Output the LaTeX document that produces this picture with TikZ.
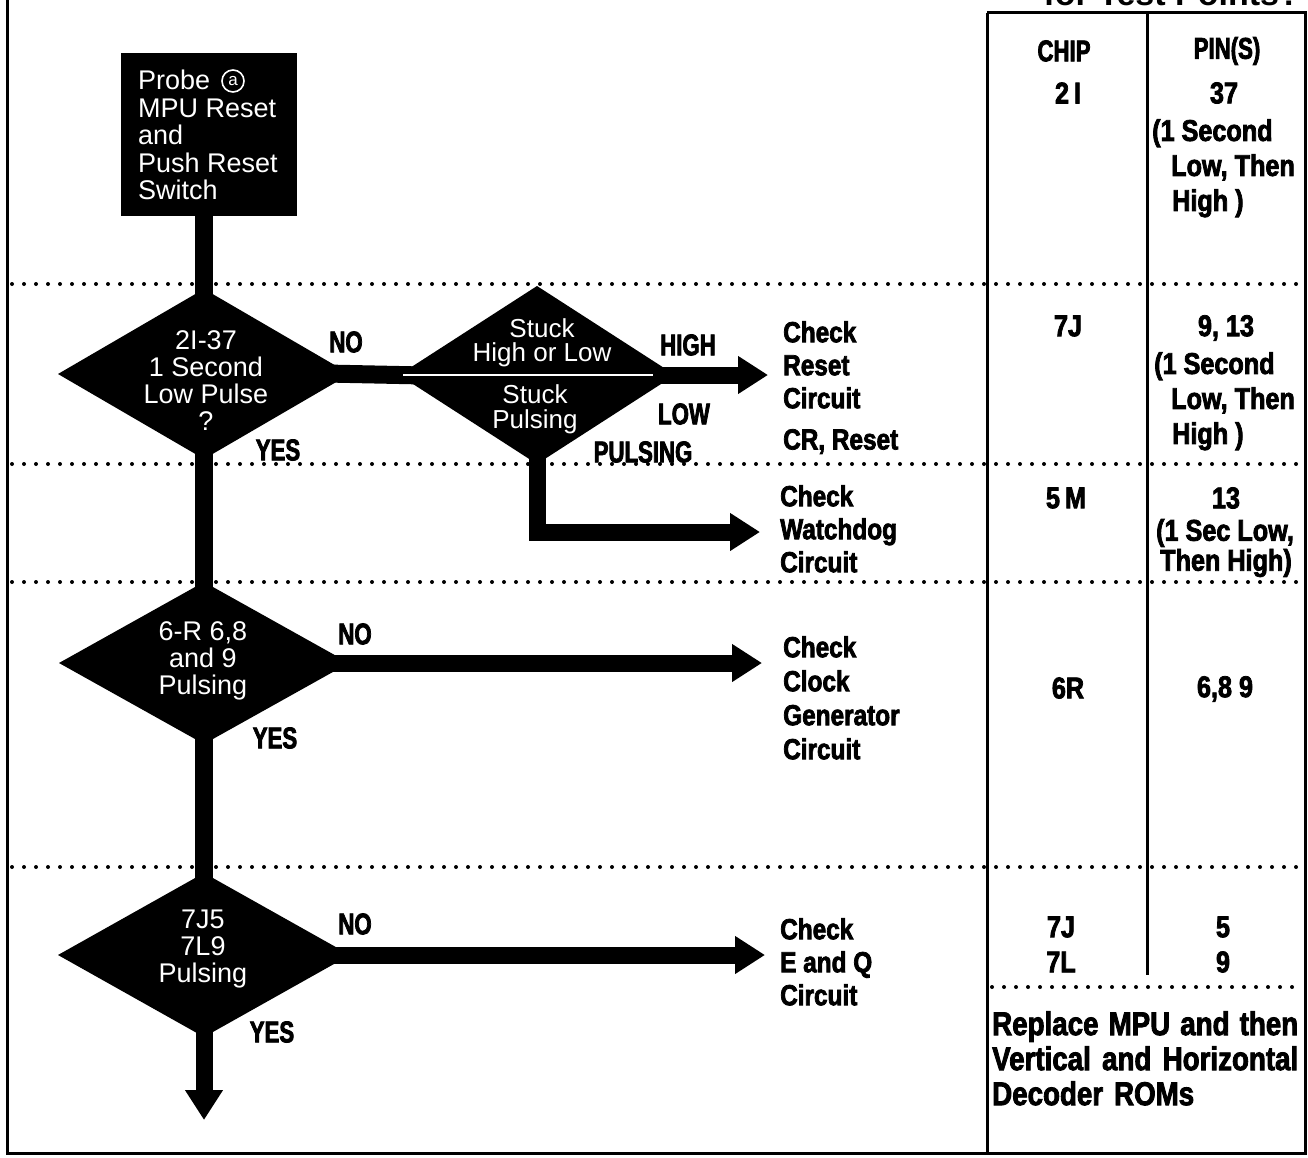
\documentclass[tikz,border=0pt]{standalone}
\usepackage{fontspec}
\setmainfont{Liberation Sans}
\newfontfamily\cond[FakeStretch=0.84,BoldFeatures={FakeBold=2.5}]{Liberation Sans}
\newfontfamily\condx[FakeStretch=0.74,BoldFeatures={FakeBold=2.5}]{Liberation Sans}
\usetikzlibrary{shapes.geometric,arrows.meta}
\begin{document}
\begin{tikzpicture}[x=1pt,y=-1pt,
  dots/.style={line width=4pt, line cap=round, dash pattern=on 0pt off 12pt},
  frame/.style={line width=3pt},
  dia/.style={diamond, fill=black, inner sep=0pt, outer sep=0pt},
  dtext/.style={text=white, font=\fontsize{27}{27}\selectfont, align=center, inner sep=0pt},
  shaft/.style={line width=18pt, shorten <=-16pt, shorten >=-16pt},
  arr/.style={line width=17pt, shorten <=-22pt, -{Triangle[length=30pt 0, width=36pt 0]}},
  lbl/.style={font=\condx\bfseries\fontsize{30}{32}\selectfont, inner sep=0pt},
  res/.style={font=\cond\bfseries\fontsize{29}{33}\selectfont, align=left, anchor=north west, inner sep=0pt},
  tab/.style={font=\cond\bfseries\fontsize{30}{35}\selectfont, inner sep=0pt, align=center},
  tabl/.style={font=\cond\bfseries\fontsize{30}{35}\selectfont, inner sep=0pt, align=left, anchor=north west},
]
\useasboundingbox (0,0) rectangle (1308,1158);

% title (cut off at top, as in the reference)
\node[font=\bfseries\fontsize{34}{34}\selectfont, anchor=base east, inner sep=0pt] (title) at (1300,6) {for Test Points?};

% dotted separators
\foreach \yy in {284,464,582,867} {
  \draw[dots] (12,\yy) -- (1302,\yy);
}
\draw[dots] (992,987) -- (1302,987);

% frame and table lines
\draw[frame] (7,0) -- (7,1153) -- (1305,1153) -- (1305,13) -- (987,13);
\draw[frame] (987,13) -- (987,1153);
\draw[frame] (1147,13) -- (1147,975);

% start box
\node[fill=black, minimum width=176pt, minimum height=163pt, inner sep=0pt, outer sep=0pt, anchor=north west] (start) at (121,53) {};
\node[text=white, anchor=north west, align=left, inner sep=0pt, font=\fontsize{27}{27.5}\selectfont] (starttext) at (138,70)
  {Probe\\MPU Reset\\and\\Push Reset\\Switch};
\node[circle, draw=white, line width=1.6pt, text=white, inner sep=0pt, minimum size=22pt, font=\fontsize{17}{17}\selectfont] (circa) at (233,81) {a};

% diamonds
\node[dia, minimum width=292pt, minimum height=170pt] (d1) at (204,374) {};
\node[dia, minimum width=276pt, minimum height=178pt] (d2) at (537,375) {};
\node[dia, minimum width=290pt, minimum height=162pt] (d3) at (204,663) {};
\node[dia, minimum width=292pt, minimum height=164pt] (d4) at (204,955) {};

% connectors
\draw[shaft] (start.south -| d1.north) -- (d1.north);
\draw[shaft] (d1.south) -- (d3.north);
\draw[shaft] (d3.south) -- (d4.north);
\draw[shaft, shorten <=-22pt, shorten >=-22pt] (d1.east) -- (d2.west);
\draw[white, line width=1.5pt] ([xshift=4pt]d2.west) -- ([xshift=-8pt]d2.east);

\coordinate (t1) at (768,375);
\coordinate (t2) at (760,532);
\coordinate (t3) at (762,663);
\coordinate (t4) at (765,955);
\coordinate (t5) at (204,1120);
\draw[arr] (d2.east) -- (t1);
\draw[arr, shorten <=-16pt] (d2.south) |- (t2);
\draw[arr] (d3.east) -- (t3);
\draw[arr] (d4.east) -- (t4);
\draw[arr, shorten <=-16pt] (d4.south) -- (t5);

% diamond texts
\node[dtext] (d1t) at (206,381) {2I-37\\1 Second\\Low Pulse\\?};
\node[dtext, font=\fontsize{26}{24}\selectfont] (d2a) at (542,343) {Stuck\\High or Low};
\node[dtext, font=\fontsize{26}{25}\selectfont] (d2b) at (535,409) {Stuck\\Pulsing};
\node[dtext] (d3t) at (203,661) {6-R 6,8\\and 9\\Pulsing};
\node[dtext] (d4t) at (203,949) {7J5\\7L9\\Pulsing};

% branch labels
\node[lbl] (no1) at (346,342) {NO};
\node[lbl] (yes1) at (278,450) {YES};
\node[lbl] (high) at (688,345) {HIGH};
\node[lbl] (low) at (684,414) {LOW};
\node[lbl] (puls) at (643,452) {PULSING};
\node[lbl] (no3) at (355,634) {NO};
\node[lbl] (yes3) at (275,738) {YES};
\node[lbl] (no4) at (355,924) {NO};
\node[lbl] (yes4) at (272,1032) {YES};

% result texts
\node[res] (r1) at (783,321) {Check\\Reset\\Circuit};
\node[res] (r1b) at (783,429) {CR, Reset};
\node[res] (r2) at (780,485) {Check\\Watchdog\\Circuit};
\node[res, font=\cond\bfseries\fontsize{29}{34}\selectfont] (r3) at (783,636) {Check\\Clock\\Generator\\Circuit};
\node[res] (r4) at (780,918) {Check\\E and Q\\Circuit};

% table
\node[tab, font=\condx\bfseries\fontsize{30}{35}\selectfont] (chip) at (1064,51) {CHIP};
\node[tab, font=\condx\bfseries\fontsize{30}{35}\selectfont] (pins) at (1227,51) {PIN(S)};
\node[tab] (c1) at (1068,93) {2\,I};
\node[tab] (p1) at (1224,93) {37};
\node[tabl] (p1b) at (1152,119) {(1 Second\\\hspace*{19pt}Low, Then\\\hspace*{20pt}High )};
\node[tab] (c2) at (1068,326) {7J};
\node[tab] (p2) at (1226,328) {9, 13};
\node[tabl] (p2b) at (1154,352) {(1 Second\\\hspace*{17pt}Low, Then\\\hspace*{18pt}High )};
\node[tab] (c3) at (1066,498) {5\,M};
\node[tab] (p3) at (1226,498) {13};
\node[tab] (p3b) at (1225,533) {(1 Sec\ Low,};
\node[tab] (p3c) at (1226,563) {Then\ High)};
\node[tab] (c4) at (1068,688) {6R};
\node[tab] (p4) at (1225,689) {6,8 9};
\node[tab] (c5) at (1061,927) {7J};
\node[tab] (c5b) at (1061,962) {7L};
\node[tab] (p5) at (1223,927) {5};
\node[tab] (p5b) at (1223,962) {9};
\node[tabl, font=\cond\bfseries\fontsize{33}{35}\selectfont, text width=306pt] (repl) at (992,1011)
  {\makebox[306pt][s]{Replace\hfill MPU\hfill and\hfill then}\\
   \makebox[306pt][s]{Vertical\hfill and\hfill Horizontal}\\
   Decoder ROMs};
\end{tikzpicture}
\end{document}
